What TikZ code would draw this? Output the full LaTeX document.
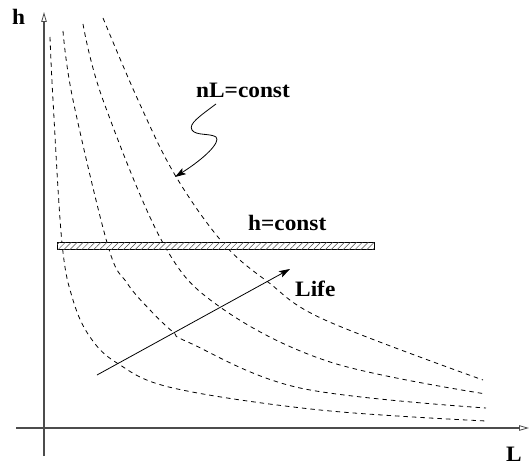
\documentclass[tikz,border=0pt]{standalone}
\usepackage{fontspec}
\setmainfont[FakeStretch=1.06]{Liberation Serif}
\usetikzlibrary{arrows.meta,patterns.meta}
\begin{document}
\begin{tikzpicture}[x=1pt,y=-1pt,
  lbl/.style={font=\bfseries\fontsize{22}{26}\selectfont,inner sep=0pt,anchor=base west},
  axis/.style={draw=black!70,line width=1.2pt,-{Triangle[open,length=10pt,width=5.5pt,line width=0.8pt]}},
  curve/.style={draw=black,line width=0.8pt,dash pattern=on 4.5pt off 4pt},
  hatchbar/.style={draw=black,line width=0.8pt,fill=white,
    postaction={pattern={Lines[angle=45,distance=4.2pt,line width=0.5pt]},pattern color=black!70}},
  pointer/.style={draw=black,line width=0.8pt,-{Stealth[length=11pt,width=7pt,inset=2.5pt]}}]
\useasboundingbox (0,0) rectangle (530,468);
% axes
\coordinate (yb) at (44,456);
\coordinate (yt) at (44,12);
\coordinate (xl) at (16,428);
\coordinate (xr) at (529,428);
\draw[axis] (yb) -- (yt);
\draw[axis] (xl) -- (xr);
% curves
\draw[curve] plot[smooth,tension=0.6] coordinates {(50,37) (53,100) (62,243) (73,300) (90,337) (117,363) (173,388) (320,410) (486,421)};
\draw[curve] plot[smooth,tension=0.6] coordinates {(63,31) (73,100) (108,246) (127,283) (150,310) (173,332) (190,343) (300,388) (486,408)};
\draw[curve] plot[smooth,tension=0.6] coordinates {(83,24) (103,100) (163,243) (220,307) (330,362) (486,394)};
\draw[curve] plot[smooth,tension=0.6] coordinates {(103,18) (138,100) (175,175) (223,243) (268,282) (325,320) (483,380)};
% hatched bar
\draw[hatchbar] (57,242) rectangle (374,249);
% labels
\node[lbl] (hlab) at (12,25) {h};
\node[lbl] (llab) at (506,461) {L};
\node[lbl] (nl) at (196,98) {nL=const};
\node[lbl] (hc) at (248,230) {h=const};
\node[lbl] (life) at (295,296) {Life};
% squiggle pointer
\coordinate (sqs) at (216,104);
\coordinate (sqe) at (175,177);
\draw[pointer] (sqs) .. controls (200,116) and (188,124) .. (192,130)
   .. controls (196,136) and (210,133) .. (216,137)
   .. controls (221,142) and (205,158) .. (sqe);
% life arrow
\coordinate (lifeS) at (97,375);
\coordinate (lifeE) at (290,269);
\draw[pointer] (lifeS) -- (lifeE);
\end{tikzpicture}
\end{document}
